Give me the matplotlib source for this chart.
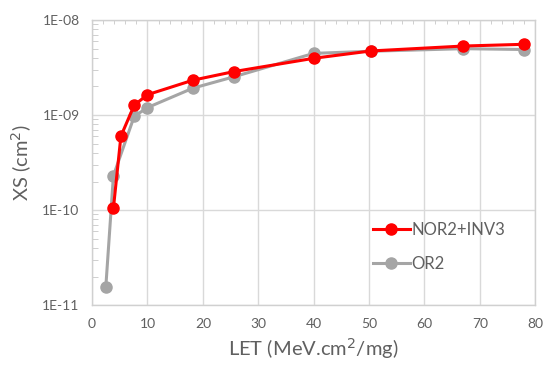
import matplotlib
matplotlib.use("Agg")
import matplotlib.pyplot as plt
import numpy as np
from matplotlib.ticker import FixedLocator, LogLocator, NullFormatter

plt.rcParams['font.family'] = ['Lato', 'DejaVu Sans']

# data
let_nor = [3.85, 5.2, 7.6, 10.0, 18.2, 25.6, 40.0, 50.3, 67.0, 78.0]
xs_nor = [1.05e-10, 6.0e-10, 1.27e-9, 1.64e-9, 2.33e-9, 2.87e-9, 3.96e-9, 4.73e-9, 5.33e-9, 5.56e-9]

let_or = [2.47, 3.85, 7.6, 10.0, 18.2, 25.6, 40.0, 50.3, 67.0, 78.0]
xs_or = [1.54e-11, 2.3e-10, 9.7e-10, 1.2e-9, 1.92e-9, 2.53e-9, 4.46e-9, 4.7e-9, 5.0e-9, 4.9e-9]

x_ticks = [0, 10, 20, 30, 40, 50, 60, 70, 80]
y_ticks = [1e-11, 1e-10, 1e-9, 1e-8]
y_labels = ['1E-11', '1E-10', '1E-09', '1E-08']

red = '#FF0000'
grey = '#A5A5A5'
txt = '#606060'

fig = plt.figure(figsize=(5.45, 3.65), dpi=100)
ax = fig.add_axes([0.169, 0.164, 0.813, 0.781])

ax.plot(let_or, xs_or, color=grey, lw=2.2, marker='o', ms=8, label='OR2', zorder=3)
ax.plot(let_nor, xs_nor, color=red, lw=2.2, marker='o', ms=8, label='NOR2+INV3', zorder=4)

ax.set_yscale('log')
ax.set_xlim(0, 80)
ax.set_ylim(1e-11, 1e-8)
ax.set_xticks(x_ticks)
ax.set_yticks(y_ticks)
ax.set_yticklabels(y_labels)
ax.yaxis.set_minor_locator(LogLocator(base=10, subs=np.arange(2, 10)))
ax.yaxis.set_minor_formatter(NullFormatter())
ax.xaxis.set_minor_locator(FixedLocator(np.arange(0, 81, 2)))

ax.grid(True, which='major', color='#D9D9D9', lw=1)
ax.set_axisbelow(True)
for s in ax.spines.values():
    s.set_color('#D0D0D0')
    s.set_linewidth(1)

ax.tick_params(axis='both', which='major', length=0, labelsize=10, labelcolor=txt, pad=9)
ax.tick_params(axis='y', which='minor', direction='in', length=4, color='#C8C8C8', left=True)
ax.tick_params(axis='x', which='minor', direction='in', length=3, color='#C8C8C8',
               bottom=False, top=True)

ax.set_xlabel('LET (MeV.cm$^2$/mg)', fontsize=14.5, color=txt, labelpad=5)
ax.set_ylabel('XS (cm$^2$)', fontsize=14.5, color=txt, labelpad=6)

handles, labels = ax.get_legend_handles_labels()
leg = ax.legend(handles[::-1], labels[::-1], loc='center left', bbox_to_anchor=(0.6, 0.205),
                frameon=False, fontsize=12, handlelength=2.2, handletextpad=0.1,
                labelspacing=1.1, labelcolor=txt)

fig.savefig('out.png', dpi=100)
